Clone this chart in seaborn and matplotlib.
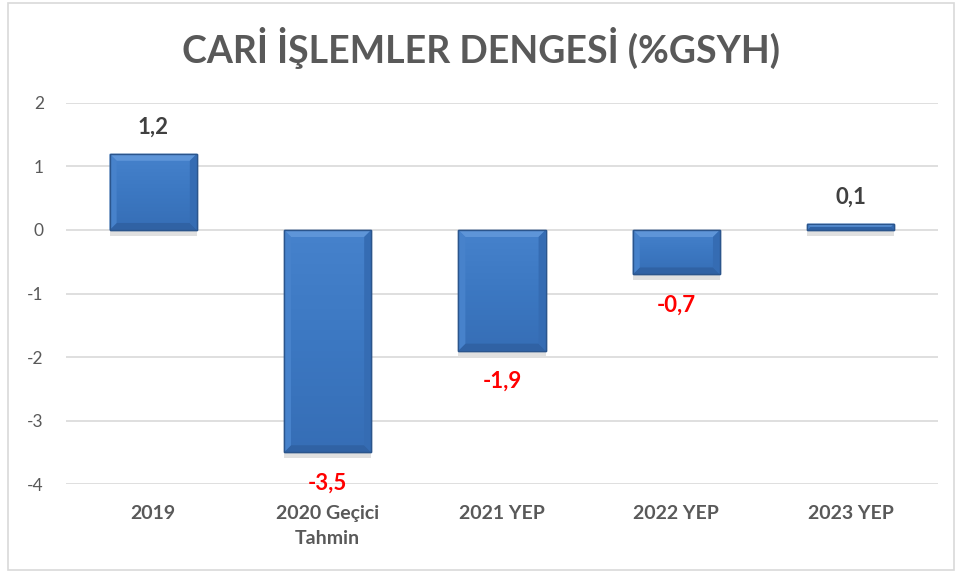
import matplotlib
matplotlib.use("Agg")
import matplotlib.pyplot as plt
import matplotlib.patheffects as pe
import seaborn as sns
import pandas as pd
import numpy as np
from matplotlib.patches import Rectangle, Polygon
from matplotlib.colors import LinearSegmentedColormap

categories = ["2019", "2020 Geçici\nTahmin", "2021 YEP", "2022 YEP", "2023 YEP"]
values = [1.2, -3.5, -1.9, -0.7, 0.1]
labels = ["1,2", "-3,5", "-1,9", "-0,7", "0,1"]
yticks = [2, 1, 0, -1, -2, -3, -4]

sns.set_theme(style="white")
plt.rcParams['font.family'] = ['Lato', 'DejaVu Sans']

fig = plt.figure(figsize=(9.61, 5.76), dpi=100)
ax = fig.add_axes([0.0687, 0.1597, 0.9073, 0.6615])

df = pd.DataFrame({"cat": categories, "val": values})
sns.barplot(data=df, x="cat", y="val", ax=ax, color="#3C78C2", width=0.5,
            saturation=1, edgecolor="#2B558C", linewidth=1.0, zorder=3)

ax.set_ylim(-4, 2)
ax.set_xlim(-0.5, 4.5)

# bevel / gradient decoration derived from each bar's geometry
cmap = LinearSegmentedColormap.from_list("b", ["#4682CC", "#3C78C2", "#366EB6"])
px_x = 5.0 / 872.0
px_y = 6.0 / 381.0
for p in list(ax.patches):
    x0, y0 = p.get_x(), p.get_y()
    w, h = p.get_width(), p.get_height()
    xa, xb = x0, x0 + w
    ya, yb = min(y0, y0 + h), max(y0, y0 + h)
    p.set_path_effects([pe.SimplePatchShadow(offset=(0, -4), shadow_rgbFace="#9A9A9A", alpha=0.3),
                        pe.Normal()])
    grad = np.linspace(0, 1, 64).reshape(-1, 1)
    im = ax.imshow(grad, extent=[xa, xb, ya, yb], origin="upper", cmap=cmap,
                   aspect="auto", zorder=3.2)
    im.set_clip_path(p)
    bpx = min(7, (yb - ya) / px_y / 2)
    bx, by = bpx * px_x, bpx * px_y
    bevels = [
        ([(xa, yb), (xb, yb), (xb - bx, yb - by), (xa + bx, yb - by)], "#5E95D8"),
        ([(xa, ya), (xb, ya), (xb - bx, ya + by), (xa + bx, ya + by)], "#3062A4"),
        ([(xa, ya), (xa, yb), (xa + bx, yb - by), (xa + bx, ya + by)], "#4782CB"),
        ([(xb, ya), (xb, yb), (xb - bx, yb - by), (xb - bx, ya + by)], "#356CB3"),
    ]
    for pts, c in bevels:
        ax.add_patch(Polygon(pts, closed=True, facecolor=c, edgecolor="none", zorder=3.4))
    ax.add_patch(Rectangle((xa, ya), xb - xa, yb - ya, fill=False,
                           edgecolor="#2B558C", linewidth=1.0, zorder=3.5))

ax.set_ylim(-4, 2)
ax.set_xlim(-0.5, 4.5)
ax.set_yticks(yticks)
ax.set_yticklabels([str(t) for t in yticks], fontsize=12.5, color="#595959")
ax.set_xticks(range(len(categories)))
ax.set_xticklabels(categories, fontsize=14, color="#595959", fontweight="bold", linespacing=1.55)
ax.tick_params(axis="x", length=0, pad=15)
ax.tick_params(axis="y", length=0, pad=16)
ax.grid(axis="y", color="#D9D9D9", linewidth=1.2, zorder=0)
ax.set_axisbelow(True)
ax.set_xlabel("")
ax.set_ylabel("")
for s in ax.spines.values():
    s.set_visible(False)

for i, (v, lab) in enumerate(zip(values, labels)):
    if v >= 0:
        ax.annotate(lab, (i, v), xytext=(0, 19), textcoords="offset points",
                    ha="center", va="center", fontsize=16, fontweight="bold", color="#404040", zorder=5)
    else:
        ax.annotate(lab, (i, v), xytext=(0, -22), textcoords="offset points",
                    ha="center", va="center", fontsize=16, fontweight="bold", color="#FF0000", zorder=5)

fig.text(0.5, 0.917, "CARİ İŞLEMLER DENGESİ (%GSYH)", ha="center", va="center",
         fontsize=27, fontweight="bold", color="#595959")

fig.patches.append(Rectangle((0.008, 0.01), 0.985, 0.985, transform=fig.transFigure,
                             fill=False, edgecolor="#D9D9D9", linewidth=1.2))

fig.savefig("out.png", dpi=100)
